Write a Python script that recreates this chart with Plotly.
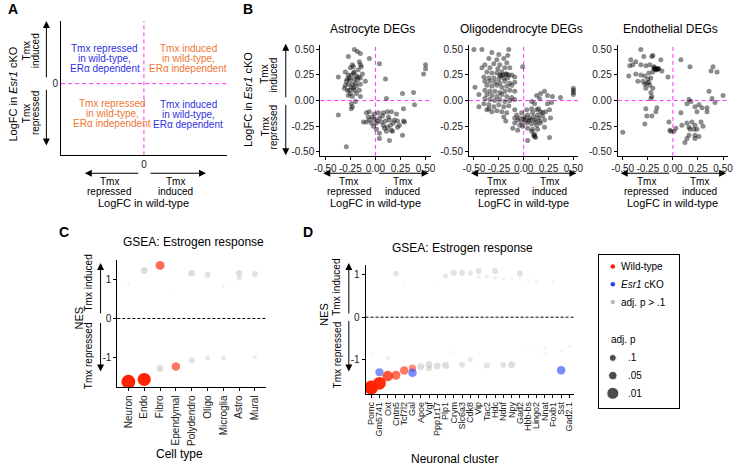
import math
import plotly.graph_objects as go

W, H = 738, 470
FONT = "Liberation Sans, Arial, Helvetica, sans-serif"
RED = "rgb(255,34,0)"
BLUE = "rgb(40,70,245)"
GRAY = "rgb(185,185,185)"
MAGENTA = "#FF33FF"
QBLUE = "#2F2FE6"
QORANGE = "#EE7733"


def fx(x):
    return x / W


def fy(y):
    return 1 - y / H


# ---------------- Panel B data: (LogFC wild-type, LogFC Esr1 cKO) ----------------
astro_deg = [
    [-0.21, 0.50], [-0.18, 0.48], [-0.15, 0.46], [-0.27, 0.43], [-0.06, 0.41], [0.04, 0.36], [-0.23, 0.35],
    [-0.16, 0.38], [-0.15, 0.35], [-0.22, 0.33], [-0.25, 0.32], [-0.14, 0.33], [-0.17, 0.30], [-0.21, 0.28],
    [-0.30, 0.28], [-0.37, 0.23], [-0.27, 0.25], [-0.24, 0.25], [-0.19, 0.24], [-0.28, 0.21], [-0.25, 0.20],
    [-0.21, 0.21], [-0.15, 0.22], [-0.10, 0.19], [-0.30, 0.15], [-0.27, 0.16], [-0.23, 0.16], [-0.19, 0.14],
    [-0.15, 0.16], [-0.31, 0.12], [-0.28, 0.10], [-0.21, 0.10], [-0.16, 0.10], [-0.25, 0.07], [-0.19, 0.07],
    [-0.23, 0.04], [-0.27, 0.05], [-0.15, 0.04], [-0.24, -0.03], [-0.23, -0.06], [-0.24, -0.08], [-0.20, -0.01],
    [-0.22, 0.27], [-0.26, 0.22], [-0.18, 0.20], [-0.24, 0.13], [-0.20, 0.17], [-0.29, 0.19], [-0.13, 0.26],
    [-0.26, 0.10], [-0.22, 0.12], [-0.17, 0.23],
    [0.10, 0.21], [0.27, 0.07], [0.38, 0.08], [0.50, 0.35], [0.50, 0.31], [0.48, 0.26], [0.11, 0.02],
    [0.39, -0.04], [0.28, -0.08], [-0.37, -0.14], [-0.29, -0.45],
    [-0.09, -0.12], [-0.06, -0.11], [-0.01, -0.13], [0.03, -0.12], [0.08, -0.12], [0.12, -0.11], [0.16, -0.11],
    [0.21, -0.13], [0.04, -0.17], [-0.01, -0.18], [-0.06, -0.19], [-0.12, -0.21], [-0.09, -0.21], [-0.04, -0.22],
    [0.01, -0.22], [0.06, -0.21], [0.10, -0.20], [0.14, -0.19], [0.19, -0.19], [0.22, -0.20], [0.08, -0.24],
    [0.12, -0.26], [0.16, -0.29], [0.11, -0.30], [0.17, -0.30], [0.22, -0.26], [0.01, -0.28], [-0.02, -0.25],
    [0.04, -0.32], [0.04, -0.37], [0.14, -0.39], [0.27, -0.34], [0.28, -0.20], [0.29, -0.21], [0.24, -0.24],
    [-0.03, -0.16], [0.07, -0.15], [0.13, -0.16], [0.18, -0.22], [-0.07, -0.16], [0.02, -0.20], [0.09, -0.27],
    [0.15, -0.24],
]

oligo_deg = [
    [-0.50, 0.50], [-0.42, 0.50], [-0.32, 0.47], [-0.25, 0.45], [-0.15, 0.50], [-0.16, 0.44], [-0.35, 0.41],
    [-0.27, 0.40], [-0.20, 0.41], [-0.39, 0.35], [-0.30, 0.36], [-0.24, 0.35], [-0.17, 0.37], [-0.42, 0.32],
    [-0.34, 0.32], [-0.26, 0.31], [-0.19, 0.32], [-0.14, 0.32], [-0.37, 0.28], [-0.32, 0.27], [-0.27, 0.27],
    [-0.22, 0.28], [-0.17, 0.26], [-0.12, 0.25], [-0.40, 0.23], [-0.35, 0.22], [-0.30, 0.22], [-0.25, 0.21],
    [-0.20, 0.22], [-0.16, 0.22], [-0.09, 0.23], [-0.39, 0.19], [-0.34, 0.19], [-0.29, 0.18], [-0.24, 0.17],
    [-0.19, 0.19], [-0.14, 0.17], [-0.09, 0.18], [-0.37, 0.15], [-0.32, 0.14], [-0.27, 0.15], [-0.22, 0.13],
    [-0.17, 0.14], [-0.12, 0.15], [-0.49, 0.13], [-0.39, 0.10], [-0.34, 0.09], [-0.29, 0.09], [-0.24, 0.08],
    [-0.19, 0.09], [-0.14, 0.10], [-0.09, 0.09], [-0.37, 0.06], [-0.32, 0.05], [-0.27, 0.04], [-0.22, 0.06],
    [-0.17, 0.04], [-0.12, 0.03], [-0.45, 0.06], [-0.39, 0.02], [-0.34, 0.01], [-0.29, 0.00], [-0.24, 0.01],
    [-0.19, -0.01], [-0.14, 0.00], [-0.09, 0.01], [-0.01, 0.33], [-0.40, -0.03], [-0.35, -0.04], [-0.30, -0.06],
    [-0.25, -0.04], [-0.20, -0.06], [-0.15, -0.05], [-0.45, -0.06], [-0.37, -0.09], [-0.32, -0.11], [-0.27, -0.10],
    [-0.22, -0.11], [-0.17, -0.12], [-0.20, -0.16], [-0.09, -0.09], [-0.18, -0.20], [-0.35, -0.08],
    [-0.24, 0.25], [-0.21, 0.25], [-0.18, 0.26], [-0.15, 0.25], [-0.23, 0.24],
    [0.21, 0.09], [0.24, 0.05], [0.29, 0.04], [0.37, 0.03], [0.17, 0.07], [0.13, 0.05], [0.16, 0.02],
    [0.08, -0.01], [0.11, -0.03], [0.24, -0.03], [0.28, -0.02], [0.50, 0.12], [0.50, 0.10], [0.50, 0.08],
    [0.50, 0.06],
    [-0.09, -0.17], [-0.06, -0.19], [-0.02, -0.21], [-0.09, -0.22], [-0.04, -0.24], [0.01, -0.16], [0.04, -0.14],
    [0.09, -0.12], [0.14, -0.14], [0.19, -0.15], [0.06, -0.17], [0.11, -0.19], [0.16, -0.20], [0.21, -0.19],
    [0.03, -0.22], [0.08, -0.23], [0.13, -0.24], [0.17, -0.22], [-0.07, -0.14], [-0.02, -0.12], [0.03, -0.09],
    [0.08, -0.08], [0.13, -0.09], [0.17, -0.11], [0.22, -0.11], [0.26, -0.09], [0.27, -0.17], [-0.01, -0.25],
    [0.04, -0.27], [0.09, -0.28], [0.14, -0.28], [0.21, -0.26], [0.19, -0.12], [0.11, -0.33], [0.12, -0.36],
    [0.04, -0.39], [0.26, -0.36], [-0.11, -0.27], [-0.06, -0.29], [0.08, -0.30], [0.15, -0.08],
    [0.00, -0.18], [0.05, -0.20], [0.10, -0.16], [0.12, -0.21], [0.07, -0.19], [0.02, -0.19], [-0.04, -0.17],
    [0.15, -0.17], [0.10, -0.34], [0.11, -0.35],
]

endo_deg = [
    [-0.50, -0.31], [-0.32, 0.50], [-0.42, 0.40], [-0.37, 0.38], [-0.29, 0.43], [-0.21, 0.43], [-0.20, 0.44],
    [-0.43, 0.34], [-0.40, 0.35], [-0.32, 0.35], [-0.27, 0.34], [-0.23, 0.35], [-0.19, 0.33], [-0.12, 0.40],
    [-0.15, 0.31], [-0.44, 0.24], [-0.37, 0.26], [-0.32, 0.25], [-0.28, 0.24], [-0.24, 0.27], [-0.19, 0.31],
    [-0.18, 0.32], [-0.15, 0.31], [-0.11, 0.29], [-0.20, 0.28], [-0.25, 0.21], [-0.22, 0.22], [-0.35, 0.19],
    [-0.30, 0.19], [-0.26, 0.17], [-0.24, 0.18], [-0.28, 0.16], [-0.23, 0.15], [-0.27, 0.12], [-0.20, 0.12],
    [-0.22, 0.08], [-0.21, 0.04], [-0.22, 0.02], [-0.05, 0.23], [-0.27, -0.08], [-0.16, -0.07], [-0.17, -0.11],
    [-0.21, -0.15], [-0.28, -0.23], [-0.26, -0.15], [-0.04, -0.21], [-0.03, -0.29], [-0.02, -0.30], [0.01, -0.30],
    [0.03, -0.27], [0.08, 0.40], [0.17, 0.33], [0.08, -0.12], [0.09, -0.24], [0.14, -0.22], [0.16, -0.26],
    [0.17, -0.28], [0.19, -0.21], [0.22, -0.24], [0.21, -0.28], [0.22, -0.34], [0.26, -0.35], [0.12, -0.41],
    [0.14, -0.37], [0.16, -0.34], [0.24, -0.28], [0.28, -0.21], [0.30, -0.25], [0.16, 0.01], [0.14, -0.03],
    [0.18, -0.01], [0.24, -0.11], [0.22, -0.06], [0.26, -0.04], [0.29, -0.07], [0.34, -0.07], [0.34, -0.11],
    [0.39, 0.02], [0.40, 0.33], [0.38, 0.29], [0.44, 0.28], [0.42, -0.02], [0.50, 0.05], [0.36, 0.09],
    [0.22, -0.37], [-0.16, 0.30], [-0.14, 0.31], [-0.17, 0.30], [-0.18, 0.31],
]

deg_panels = ["Astrocyte DEGs", "Oligodendrocyte DEGs", "Endothelial DEGs"]
deg_ticks = [-0.5, -0.25, 0.0, 0.25, 0.5]
deg_ticktext = ["-0.50", "-0.25", "0.00", "0.25", "0.50"]

# ---------------- Panel C data ----------------
cell_types = ["Neuron", "Endo", "Fibro", "Ependymal", "Polydendro", "Oligo", "Microglia", "Astro", "Mural"]
c_wt_nes = [-1.61, -1.55, 1.35, -1.22, 1.15, 1.11, -1.00, 1.15, 1.13]
c_wt_p = [0.004, 0.006, 0.04, 0.05, 0.12, 0.16, 0.25, 0.13, 0.16]
c_ko_nes = [0.90, 1.22, -1.27, 0.68, -1.07, -1.00, 0.82, 1.03, -0.98]
c_ko_p = [0.63, 0.11, 0.11, 0.90, 0.16, 0.25, 0.60, 0.25, 0.40]

# ---------------- Panel D data ----------------
clusters = ["Pomc", "Gm5741", "Oxt", "Cntn5", "Tcf7l2", "Gal", "Apoe", "Vgf", "Ppp1r17", "Plp1", "Crym",
            "Slc6a3", "Cdk8", "Vip", "Tac2", "Hdc", "Ndnf", "Npy", "Gad2", "Hbb-bs", "Lingo2", "Nnat",
            "Foxb1", "Sst", "Gad2.1"]
d_wt_nes = [-1.66, -1.56, -1.39, -1.37, -1.26, -1.20, -1.17, -1.12, -1.15, -1.14, 1.05, -1.12, 1.04,
            1.09, -1.14, 1.09, -1.13, -1.12, 1.04, 0.88, 0.86, -0.73, 0.83, -0.80, -0.69]
d_wt_p = [0.004, 0.007, 0.02, 0.04, 0.05, 0.09, 0.11, 0.11, 0.11, 0.11, 0.16, 0.16, 0.25, 0.16, 0.16,
          0.16, 0.16, 0.11, 0.16, 0.63, 0.63, 0.63, 0.63, 0.63, 0.63]
d_ko_nes = [-0.87, -1.30, -0.97, 1.03, 0.81, -1.31, None, -1.21, 0.82, 0.98, -0.83, 1.05, -1.00, 0.95,
            0.96, 0.93, 0.91, 0.90, 0.93, -0.77, None, -0.85, None, -1.25, None]
d_ko_p = [0.70, 0.06, 0.40, 0.20, 0.70, 0.05, None, 0.16, 0.70, 0.25, 0.70, 0.16, 0.25, 0.40, 0.40,
          0.40, 0.63, 0.63, 0.63, 0.70, None, 0.70, None, 0.05, None]

# ---------------- Legend data ----------------
legend_groups = ["Wild-type", "<i>Esr1</i> cKO", "adj. p > .1"]
legend_group_colors = [RED, BLUE, GRAY]
legend_p_values = [0.1, 0.05, 0.01]
legend_p_labels = [".1", ".05", ".01"]


def p_size(p):
    return 2 + 5 * (-math.log10(p))


def p_alpha(p):
    return min(1.0, 0.1 + 0.4 * (-math.log10(p)))


fig = go.Figure()

# ---- Panel B scatter traces
for i, pts in enumerate([astro_deg, oligo_deg, endo_deg]):
    fig.add_trace(go.Scatter(
        x=[p[0] for p in pts], y=[p[1] for p in pts], mode="markers",
        xaxis=f"x{i + 2}", yaxis=f"y{i + 2}",
        marker=dict(size=5, color="rgba(0,0,0,0.45)", line=dict(width=0)),
        hoverinfo="skip", showlegend=False, cliponaxis=False))


def gsea_trace(cats, nes, pvals, color, xa, ya):
    xs, ys, sz, cl, op = [], [], [], [], []
    for c, n, p in zip(cats, nes, pvals):
        if n is None:
            continue
        xs.append(c)
        ys.append(n)
        sz.append(p_size(p))
        cl.append(color if p <= 0.1 else GRAY)
        op.append(p_alpha(p))
    return go.Scatter(x=xs, y=ys, mode="markers", xaxis=xa, yaxis=ya,
                      marker=dict(size=sz, color=cl, opacity=op, line=dict(width=0)),
                      hoverinfo="skip", showlegend=False)


fig.add_trace(gsea_trace(cell_types, c_wt_nes, c_wt_p, RED, "x5", "y5"))
fig.add_trace(gsea_trace(cell_types, c_ko_nes, c_ko_p, BLUE, "x5", "y5"))
fig.add_trace(gsea_trace(clusters, d_wt_nes, d_wt_p, RED, "x6", "y6"))
fig.add_trace(gsea_trace(clusters, d_ko_nes, d_ko_p, BLUE, "x6", "y6"))

# ---- Legend markers
fig.add_trace(go.Scatter(x=[0] * 3, y=[0, 1, 2], mode="markers", xaxis="x7", yaxis="y7",
                         marker=dict(size=4.5, color=legend_group_colors), hoverinfo="skip", showlegend=False))
fig.add_trace(go.Scatter(x=[0] * 3, y=[5.15, 6.15, 7.15], mode="markers", xaxis="x7", yaxis="y7",
                         marker=dict(size=[p_size(p) for p in legend_p_values], color="#000"),
                         hoverinfo="skip", showlegend=False))


def axis(**kw):
    d = dict(showline=True, linecolor="#000", linewidth=1, showgrid=False, zeroline=False,
             ticks="outside", ticklen=3, tickwidth=1, tickcolor="#000", tickangle=0,
             tickfont=dict(size=10, color="#222", family=FONT), fixedrange=True)
    d.update(kw)
    return d


layout = dict(
    width=W, height=H, margin=dict(l=0, r=0, t=0, b=0),
    paper_bgcolor="white", plot_bgcolor="white", showlegend=False,
    font=dict(family=FONT, size=10, color="#000"),
)

# Panel A axes
layout["xaxis"] = axis(domain=[fx(56), fx(224)], range=[-1, 1], tickvals=[0], ticktext=["0"], ticks="",
                       anchor="y")
layout["yaxis"] = axis(domain=[fy(155), fy(20)], range=[-1.067, 0.933], tickvals=[0], ticktext=["0"],
                       ticks="", anchor="x")

# Panel B axes
b_x = [(319, 431), (470, 581), (621, 733)]
for i, (l, r) in enumerate(b_x):
    n = i + 2
    layout[f"xaxis{n}"] = axis(domain=[fx(l), fx(r)], range=[-0.55, 0.55], tickvals=deg_ticks,
                               ticktext=deg_ticktext, anchor=f"y{n}")
    layout[f"yaxis{n}"] = axis(domain=[fy(155.5), fy(44.5)], range=[-0.54, 0.54], tickvals=deg_ticks,
                               ticktext=deg_ticktext, anchor=f"x{n}")

# Panel C axes
layout["xaxis5"] = axis(domain=[fx(113), fx(264)], range=[-0.7, 8.7], type="category",
                        categoryorder="array", categoryarray=cell_types, tickmode="array",
                        tickvals=cell_types, ticktext=cell_types, tickangle=-90, anchor="y5")
layout["yaxis5"] = axis(domain=[fy(388), fy(260)], range=[-1.75, 1.49], tickvals=[-1, 0, 1],
                        ticktext=["-1", "0", "1"], anchor="x5")
# Panel D axes
layout["xaxis6"] = axis(domain=[fx(365), fx(577)], range=[-0.68, 24.6], type="category",
                        categoryorder="array", categoryarray=clusters, tickmode="array",
                        tickvals=clusters, ticktext=clusters, tickangle=-90, anchor="y6",
                        tickfont=dict(size=9, color="#222", family=FONT))
layout["yaxis6"] = axis(domain=[fy(395), fy(265)], range=[-1.82, 1.235], tickvals=[-1, 0, 1],
                        ticktext=["-1", "0", "1"], anchor="x6")
# Legend box axes
layout["xaxis7"] = axis(domain=[fx(602), fx(683)], range=[-14, 67], ticks="", showticklabels=False,
                        mirror=True, anchor="y7")
layout["yaxis7"] = axis(domain=[fy(409), fy(255)], range=[7.99, -0.657], ticks="", showticklabels=False,
                        mirror=True, anchor="x7")

fig.update_layout(**layout)

# ---- Shapes: dashed reference lines
shapes = []
for xa, ya in [("x", "y"), ("x2", "y2"), ("x3", "y3"), ("x4", "y4")]:
    shapes.append(dict(type="line", xref=xa, yref=f"{ya} domain", x0=0, x1=0, y0=0, y1=1, layer="below",
                       line=dict(color=MAGENTA, width=1, dash="4px,3px")))
    shapes.append(dict(type="line", xref=f"{xa} domain", yref=ya, x0=0, x1=1, y0=0, y1=0, layer="below",
                       line=dict(color=MAGENTA, width=1, dash="4px,3px")))
for xa, ya in [("x5", "y5"), ("x6", "y6")]:
    shapes.append(dict(type="line", xref=f"{xa} domain", yref=ya, x0=0, x1=1, y0=0, y1=0, layer="below",
                       line=dict(color="#000", width=1, dash="3px,2px")))
fig.update_layout(shapes=shapes)

# ---- Annotations
ann = []


def text(x, y, s, size=10, color="#000", angle=0, xanchor="center", bold=False):
    ann.append(dict(x=fx(x), y=fy(y), xref="paper", yref="paper", text=f"<b>{s}</b>" if bold else s,
                    showarrow=False, font=dict(size=size, color=color, family=FONT), textangle=angle,
                    xanchor=xanchor, yanchor="middle", borderpad=0))


def vtext(x, y, s, size=10):
    # rotated text; glyph centre sits ~3 px right of the anchor, so compensate
    text(x - 3, y, s, size=size, angle=-90)


def arrow(xt, yt, xh, yh):
    ann.append(dict(x=fx(xh), y=fy(yh), xref="paper", yref="paper", ax=xt - xh, ay=yt - yh,
                    axref="pixel", ayref="pixel", text="", showarrow=True, arrowhead=2, arrowsize=1.4,
                    arrowwidth=1, arrowcolor="#000", standoff=0, startstandoff=0))


# Panel letters
text(7, 8, "A", size=14, bold=True)
text(246, 8, "B", size=14, bold=True)
text(59, 232, "C", size=14, bold=True)
text(307, 232, "D", size=14, bold=True)

# Panel A quadrant texts
for i, line in enumerate(["Tmx repressed", "in wild-type,", "ERα dependent"]):
    text(100, 48 + 10 * i, line, color=QBLUE)
for i, line in enumerate(["Tmx induced", "in wild-type,", "ERα independent"]):
    text(185, 48 + 10 * i, line, color=QORANGE)
for i, line in enumerate(["Tmx repressed", "in wild-type,", "ERα independent"]):
    text(108, 103 + 10 * i, line, color=QORANGE)
for i, line in enumerate(["Tmx induced", "in wild-type,", "ERα dependent"]):
    text(185, 104 + 10 * i, line, color=QBLUE)

# Panel A y side
vtext(10, 93, "LogFC in <i>Esr1</i> cKO", size=11)
vtext(24, 50, "Tmx")
vtext(33, 50, "induced")
vtext(24, 113, "Tmx")
vtext(33, 113, "repressed")
arrow(41, 78, 41, 20)
arrow(41, 88, 41, 145)
# Panel A x side
arrow(135, 173, 80, 173)
arrow(146, 173, 203, 173)
text(105, 181.5, "Tmx")
text(105, 191.5, "repressed")
text(172, 181.5, "Tmx")
text(172, 191.5, "induced")
text(140, 203, "LogFC in wild-type", size=11)

# Panel B
b_zero = [375, 525, 677]
b_title_x = [372, 523, 675]
for i, z in enumerate(b_zero):
    text(b_title_x[i], 28, deg_panels[i], size=12)
    arrow(z - 3, 173, z - 53, 173)
    arrow(z + 3, 173, z + 54, 173)
    text(z - 27, 181.5, "Tmx")
    text(z - 27, 191.5, "repressed")
    text(z + 27, 181.5, "Tmx")
    text(z + 27, 191.5, "induced")
    text(z, 203, "LogFC in wild-type", size=11)
vtext(248, 99, "LogFC in <i>Esr1</i> cKO", size=11)
vtext(266, 74, "Tmx")
vtext(275, 74, "induced")
vtext(266, 127, "Tmx")
vtext(275, 127, "repressed")
arrow(284, 98, 284, 43)
arrow(284, 103, 284, 155)

# Panel C
text(190, 242, "GSEA: Estrogen response", size=12)
vtext(77, 318, "NES", size=11)
vtext(87, 283, "Tmx induced")
vtext(87, 356, "Tmx repressed")
arrow(96, 315, 96, 263)
arrow(96, 322, 96, 372)
text(176, 455, "Cell type", size=12)

# Panel D
text(463, 248, "GSEA: Estrogen response", size=12)
vtext(325, 315, "NES", size=11)
vtext(339, 287, "Tmx induced")
vtext(339, 355, "Tmx repressed")
arrow(348, 315, 348, 263)
arrow(348, 320, 348, 372)
text(455, 460, "Neuronal cluster", size=12)

# Legend texts
for i, lab in enumerate(legend_groups):
    text(623, 267 + 17.8 * i, lab, xanchor="left")
text(613, 340, "adj. p", xanchor="left")
for i, lab in enumerate(legend_p_labels):
    text(630, 358.3 + 17.8 * i, lab, xanchor="left")

fig.update_layout(annotations=ann)

fig.write_html("out.html", config={"displayModeBar": False},
               post_script="document.body.style.margin='0px';")
